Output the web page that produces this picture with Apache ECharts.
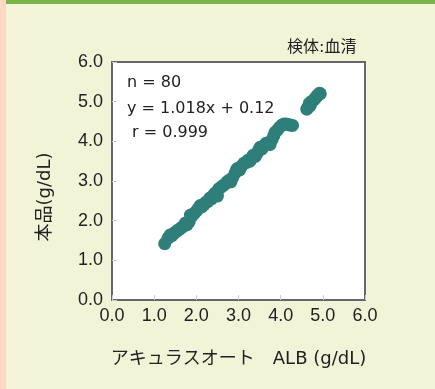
<!DOCTYPE html>
<html><head><meta charset="utf-8">
<style>html,body{margin:0;padding:0;background:#f2f4d8;}#c{width:435px;height:389px;}</style>
<script src="https://cdn.jsdelivr.net/npm/echarts@6/dist/echarts.min.js"></script>
</head><body><div id="c"></div>
<script>
const xTicks = ['0.0','1.0','2.0','3.0','4.0','5.0','6.0'];
const yTicks = ['0.0','1.0','2.0','3.0','4.0','5.0','6.0'];
const xVals = [1.25,1.33,1.38,1.42,1.47,1.52,1.56,1.60,1.65,1.70,1.74,1.78,1.83,1.86,1.90,1.95,2.00,2.04,2.09,2.13,2.18,2.22,2.27,2.32,2.36,2.40,2.45,2.50,2.53,2.58,2.63,2.68,2.73,2.78,2.82,2.86,2.92,2.96,2.99,3.03,3.08,3.13,3.18,3.22,3.27,3.31,3.35,3.40,3.44,3.48,3.51,3.55,3.60,3.65,3.70,3.75,3.80,3.84,3.87,3.92,3.97,4.03,4.08,4.13,4.18,4.23,4.28,4.62,4.65,4.68,4.70,4.73,4.76,4.80,4.83,4.86,4.88,4.90,4.92,4.94];
const yVals = [1.42,1.56,1.64,1.62,1.68,1.72,1.76,1.78,1.83,1.86,1.94,1.90,1.97,2.14,2.12,2.18,2.24,2.30,2.38,2.35,2.40,2.46,2.48,2.57,2.55,2.64,2.70,2.62,2.80,2.84,2.88,2.92,2.98,3.02,2.98,3.08,3.20,3.30,3.32,3.28,3.38,3.45,3.46,3.52,3.50,3.58,3.65,3.62,3.70,3.78,3.85,3.80,3.88,3.95,3.93,3.92,4.05,4.15,4.23,4.28,4.35,4.41,4.44,4.44,4.42,4.41,4.40,4.81,4.86,4.96,4.90,5.00,5.02,5.06,5.10,5.14,5.16,5.18,5.21,5.20];
const stats = ['n = 80', 'y = 1.018x + 0.12', ' r = 0.999'];
const note = '検体:血清';
const xTitle = 'アキュラスオート\u3000ALB (g/dL)';
const yTitle = '本品(g/dL)';

const data = xVals.map((x,i)=>[x,yVals[i]]);
const font = '"DejaVu Sans", "Noto Sans CJK JP", sans-serif';
const tickFont = '"Liberation Sans", Arial, sans-serif';
const chart = echarts.init(document.getElementById('c'));
chart.setOption({
  backgroundColor: '#f2f4d8',
  animation: false,
  grid: {left:112, right:70, top:62, bottom:89, show:true, backgroundColor:'#ffffff', borderColor:'#666666', borderWidth:2},
  xAxis: {type:'value', min:0, max:6, interval:1,
    axisLine:{show:false}, splitLine:{show:false},
    axisTick:{show:true, inside:true, length:5, lineStyle:{color:'#cccccc'}},
    axisLabel:{formatter:(v)=>xTicks[Math.round(v)], color:'#222', fontSize:18, fontFamily:tickFont, margin:7},
    name:xTitle, nameLocation:'middle', nameGap:50, nameTextStyle:{color:'#222', fontSize:18, fontFamily:font}},
  yAxis: {type:'value', min:0, max:6, interval:1,
    axisLine:{show:false}, splitLine:{show:false},
    axisTick:{show:true, inside:true, length:5, lineStyle:{color:'#cccccc'}},
    axisLabel:{formatter:(v)=>yTicks[Math.round(v)], color:'#222', fontSize:18, fontFamily:tickFont, margin:9}},
  graphic: [
    {type:'rect', left:0, top:0, shape:{width:6, height:389}, style:{fill:'#fdd9c4'}},
    {type:'rect', left:6, top:0, shape:{width:429, height:4}, style:{fill:'#77b54a'}},
    {type:'text', x:45, y:197, rotation:Math.PI/2, style:{text:yTitle, fill:'#222', fontSize:18, fontFamily:font, align:'center', verticalAlign:'middle'}},
    {type:'text', left:287, top:40, style:{text:note, fill:'#222', fontSize:16, fontFamily:font}},
    {type:'text', left:127, top:75, style:{text:stats[0], fill:'#222', fontSize:16, fontFamily:font}},
    {type:'text', left:127, top:101, style:{text:stats[1], fill:'#222', fontSize:16, fontFamily:font}},
    {type:'text', left:127, top:125, style:{text:stats[2], fill:'#222', fontSize:16, fontFamily:font}}
  ],
  series: [{type:'scatter', data:data, symbolSize:13, itemStyle:{color:'#2e7f7a', opacity:1}}]
});
</script></body></html>
